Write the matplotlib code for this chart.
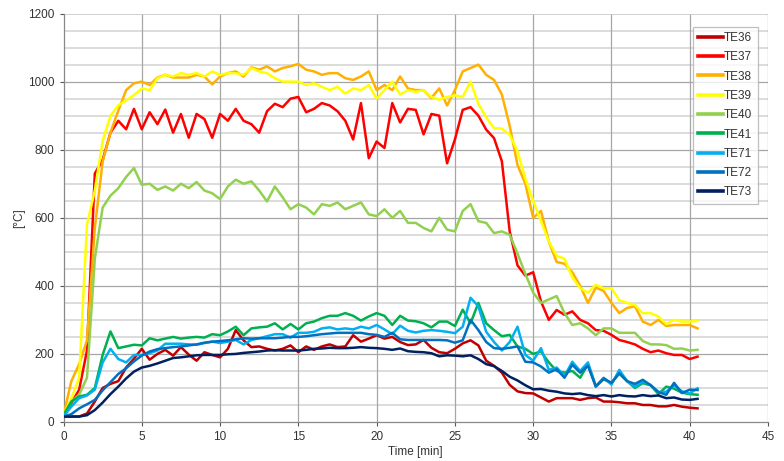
import numpy as np
import matplotlib
matplotlib.use("Agg")
import matplotlib.pyplot as plt

plt.rcParams['font.family'] = ['Liberation Sans', 'DejaVu Sans']

time_min = [i * 0.5 for i in range(82)]

TE36 = [16, 16, 16, 25, 60, 100, 112, 120, 160, 186,
        215, 183, 200, 212, 195, 220, 198, 180, 205, 197,
        190, 215, 270, 240, 220, 222, 215, 210, 215, 225,
        205, 222, 212, 222, 228, 220, 222, 255, 236, 245,
        255, 245, 250, 235, 226, 228, 241, 218, 205, 202,
        215, 231, 240, 225, 180, 165, 145, 109, 90, 85,
        84, 72, 60, 70, 70, 70, 65, 70, 72, 60,
        60, 58, 55, 55, 50, 50, 46, 46, 50, 45,
        42, 40]
TE37 = [20, 55, 95, 210, 730, 770, 850, 885, 860, 920,
        860, 910, 875, 918, 850, 905, 835, 905, 890, 835,
        905, 885, 920, 885, 875, 850, 913, 935, 925, 950,
        955, 910, 920, 937, 930, 913, 885, 830, 937, 775,
        824, 805, 937, 880, 920, 917, 845, 905, 900, 760,
        830, 917, 925, 900, 859, 834, 766, 560, 460, 430,
        440, 354, 300, 329, 315, 325, 300, 290, 270, 268,
        256, 241, 235, 228, 215, 205, 210, 202, 197, 197,
        185, 192]
TE38 = [20, 120, 170, 240, 570, 765, 850, 915, 975, 995,
        1000, 990, 1012, 1020, 1012, 1012, 1012, 1020, 1015, 992,
        1015, 1025, 1030, 1015, 1042, 1035, 1045, 1030, 1040, 1045,
        1052, 1035, 1030, 1020, 1025, 1025, 1010, 1005, 1015, 1030,
        975, 990, 975, 1015, 980, 975, 975, 952, 980, 930,
        975, 1030, 1040, 1050, 1020, 1005, 962, 870, 755, 700,
        600, 620, 530, 470, 465, 440, 400, 350, 395, 385,
        350, 320, 335, 340, 295, 285, 300, 282, 285, 285,
        285, 275]
TE39 = [20, 70, 130, 580, 680, 825, 900, 930, 945, 960,
        980, 975, 1010, 1020, 1015, 1025, 1020, 1025, 1015, 1030,
        1020, 1025, 1025, 1020, 1040, 1030, 1025, 1010, 1000, 1000,
        1000, 990, 995, 985, 975, 985, 965, 980, 975, 990,
        950, 975, 1000, 962, 975, 970, 975, 955, 947, 955,
        960, 955, 1000, 935, 895, 863, 862, 844, 795, 715,
        650, 590, 530, 488, 480, 425, 393, 380, 403, 393,
        393, 358, 350, 344, 320, 320, 310, 288, 300, 295,
        295, 297]
TE40 = [20, 60, 80, 130, 480, 630, 665, 687, 720, 746,
        697, 700, 682, 692, 680, 700, 687, 705, 680, 672,
        655, 692, 712, 700, 707, 680, 648, 692, 660, 625,
        640, 630, 610, 640, 635, 645, 625, 635, 645, 610,
        605, 625, 600, 620, 585, 585, 570, 560, 600, 565,
        560, 620, 640, 590, 585, 555, 560, 550, 495, 435,
        380, 350, 360, 370, 320, 285, 290, 275, 255, 275,
        275, 262, 262, 262, 238, 228, 228, 226, 215, 216,
        210, 212]
TE41 = [20, 60, 75, 80, 100, 197, 266, 217, 222, 227,
        225, 246, 240, 245, 250, 245, 248, 250, 248, 258,
        255, 266, 280, 255, 275, 278, 280, 290, 272, 288,
        272, 290, 295, 305, 312, 312, 320, 312, 298, 310,
        320, 312, 285, 312, 298, 296, 290, 278, 295, 295,
        282, 330, 290, 350, 290, 270, 252, 256, 222, 215,
        200, 207, 175, 150, 145, 150, 130, 170, 105, 125,
        115, 143, 120, 100, 114, 108, 82, 104, 98, 86,
        82, 80]
TE71 = [16, 45, 70, 78, 95, 175, 215, 185, 175, 197,
        197, 202, 210, 230, 230, 230, 228, 227, 232, 236,
        232, 236, 241, 228, 241, 246, 252, 258, 258, 248,
        262, 262, 265, 275, 278, 272, 275, 272, 280, 275,
        285, 272, 258, 283, 268, 263, 268, 270, 268, 265,
        261, 280, 365, 340, 265, 235, 210, 235, 280, 197,
        180, 217, 153, 160, 135, 177, 150, 175, 105, 130,
        110, 153, 120, 104, 119, 109, 88, 89, 108, 90,
        84, 99]
TE72 = [16, 23, 40, 52, 65, 93, 117, 141, 158, 178,
        195, 207, 214, 217, 220, 222, 225, 228, 233, 236,
        238, 240, 243, 246, 245, 246, 246, 246, 248, 250,
        250, 252, 255, 258, 260, 262, 262, 262, 262, 258,
        256, 250, 262, 243, 241, 241, 241, 241, 241, 240,
        233, 240, 300, 270, 235, 217, 215, 218, 222, 177,
        175, 163, 145, 155, 130, 168, 145, 165, 104, 128,
        115, 143, 120, 112, 124, 108, 88, 80, 115, 85,
        95, 94]
TE73 = [16, 16, 16, 20, 35, 57, 82, 104, 128, 148,
        160, 165, 172, 180, 188, 190, 193, 196, 197, 197,
        197, 199, 200, 203, 205, 207, 210, 211, 210, 210,
        210, 212, 215, 216, 218, 217, 217, 218, 220, 218,
        217, 215, 212, 216, 208, 206, 205, 202, 193, 196,
        195, 193, 196, 185, 170, 164, 150, 133, 122, 108,
        96, 97, 92, 89, 84, 82, 84, 79, 76, 79,
        75, 79, 76, 75, 79, 76, 78, 70, 72, 66,
        65, 68]

series_names = ["TE36", "TE37", "TE38", "TE39", "TE40", "TE41", "TE71", "TE72", "TE73"]
series_values = [TE36, TE37, TE38, TE39, TE40, TE41, TE71, TE72, TE73]
series_colors = ["#C00000", "#FF0000", "#FFB000", "#FFFF00", "#92D050",
                 "#00B050", "#00B0F0", "#0070C0", "#002060"]

x_ticks = [0, 5, 10, 15, 20, 25, 30, 35, 40, 45]
y_ticks = [0, 200, 400, 600, 800, 1000, 1200]

fig = plt.figure(figsize=(7.84, 4.61), dpi=100)
ax = fig.add_axes([0.081, 0.0846, 0.8986, 0.886])

# grid
for yv in np.arange(0, 1201, 50):
    if yv % 200 == 0 and 0 < yv < 1200:
        ax.axhline(yv, color="#a6a6a6", lw=0.9, zorder=1)
    elif yv % 200 != 0:
        ax.axhline(yv, color="#dcdcdc", lw=1.4, zorder=0.5)
for xv in x_ticks[1:]:
    ax.axvline(xv, color="#a6a6a6", lw=0.9, zorder=1)
ax.axhline(1200, color="#c8c8c8", lw=1.2, zorder=1)

for name, vals, col in zip(series_names, series_values, series_colors):
    ax.plot(time_min, vals, color=col, lw=1.8, label=name, zorder=3,
            solid_joinstyle="round")

ax.set_xlim(0, 45)
ax.set_ylim(0, 1200)
ax.set_xticks(x_ticks)
ax.set_yticks(y_ticks)
ax.tick_params(axis="both", labelsize=8.5, colors="#555555", labelcolor="#333333",
               length=3, width=0.8, direction="out")
for side in ["top", "right"]:
    ax.spines[side].set_visible(False)
for side in ["left", "bottom"]:
    ax.spines[side].set_color("#888888")
    ax.spines[side].set_linewidth(0.9)

ax.set_xlabel("Time [min]", fontsize=8.5, color="#333333", labelpad=2)
ax.set_ylabel("[°C]", fontsize=8.5, color="#333333", labelpad=2)

leg = ax.legend(loc="upper left", bbox_to_anchor=(0.8935, 0.968), fontsize=8.5,
                frameon=True, fancybox=False, borderpad=0.45, labelspacing=0.62,
                handlelength=2.1, handletextpad=0.1, borderaxespad=0)
leg.get_frame().set_edgecolor("#b0b0b0")
leg.get_frame().set_linewidth(0.9)
for line in leg.get_lines():
    line.set_linewidth(2.6)
for t in leg.get_texts():
    t.set_color("#333333")

fig.savefig("out.png", dpi=100, facecolor="white")
